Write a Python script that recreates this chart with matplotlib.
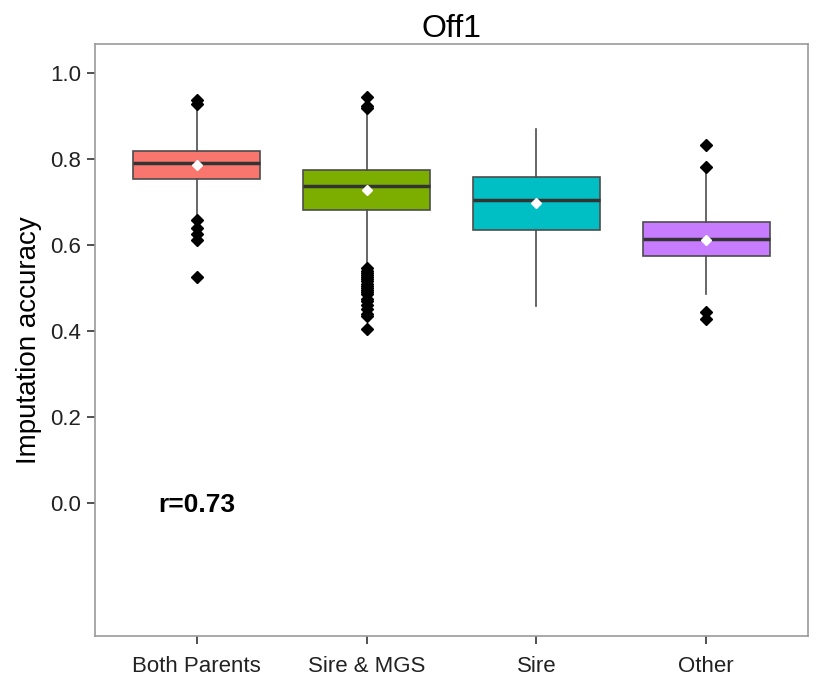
import matplotlib
matplotlib.use("Agg")
import matplotlib.pyplot as plt

plt.rcParams['font.family'] = ['Liberation Sans', 'DejaVu Sans']

groups = ["Both Parents", "Sire & MGS", "Sire", "Other"]
colors = ["#F8766D", "#7CAE00", "#00BFC4", "#C77CFF"]
q1 = [0.753, 0.682, 0.634, 0.574]
med = [0.791, 0.736, 0.705, 0.613]
q3 = [0.819, 0.774, 0.757, 0.652]
wlo = [0.666, 0.550, 0.458, 0.485]
whi = [0.922, 0.914, 0.869, 0.767]
means = [0.785, 0.727, 0.697, 0.612]
outliers = [
    [0.937, 0.928, 0.657, 0.640, 0.625, 0.612, 0.525],
    [0.943, 0.922, 0.917, 0.545, 0.54, 0.535, 0.53, 0.525, 0.52, 0.515,
     0.51, 0.505, 0.50, 0.495, 0.49, 0.485, 0.475, 0.47, 0.46, 0.45,
     0.44, 0.435, 0.405],
    [],
    [0.833, 0.781, 0.445, 0.427],
]
r_text = "r=0.73"

fig = plt.figure(figsize=(8.18, 6.84), dpi=100)
ax = fig.add_axes([0.116, 0.070, 0.872, 0.866])

stats = []
for i in range(len(groups)):
    stats.append(dict(q1=q1[i], med=med[i], q3=q3[i], whislo=wlo[i],
                      whishi=whi[i], mean=means[i], fliers=outliers[i]))

pos = list(range(1, len(groups) + 1))
bp = ax.bxp(stats, positions=pos, widths=0.75, patch_artist=True,
            showmeans=True, showcaps=False,
            boxprops=dict(edgecolor="#4d4d4d", linewidth=1.2),
            whiskerprops=dict(color="#4d4d4d", linewidth=1.2),
            medianprops=dict(color="#333333", linewidth=2.5),
            meanprops=dict(marker="D", markerfacecolor="white",
                           markeredgecolor="white", markersize=5.5),
            flierprops=dict(marker="D", markerfacecolor="black",
                            markeredgecolor="black", markersize=6))
for patch, c in zip(bp['boxes'], colors):
    patch.set_facecolor(c)

ax.text(1, -0.005, r_text, ha="center", va="center", fontsize=19,
        fontweight="bold", color="black")

ax.set_xlim(0.4, 4.6)
ax.set_ylim(-0.309, 1.067)
ax.set_xticks(pos)
ax.set_xticklabels(groups)
ax.set_yticks([0.0, 0.2, 0.4, 0.6, 0.8, 1.0])
ax.set_yticklabels(["0.0", "0.2", "0.4", "0.6", "0.8", "1.0"])
ax.tick_params(axis="both", labelsize=16, colors="#333333", length=6,
               width=1.2, direction="out", pad=4)
ax.tick_params(axis="x", pad=8)
ax.tick_params(axis="both", labelcolor="#222222")
for s in ax.spines.values():
    s.set_color("#999999")
    s.set_linewidth(1.2)

ax.set_ylabel("Imputation accuracy", fontsize=20, labelpad=6)
ax.set_title("Off1", fontsize=23, pad=5)

fig.savefig("out.png", dpi=100)
